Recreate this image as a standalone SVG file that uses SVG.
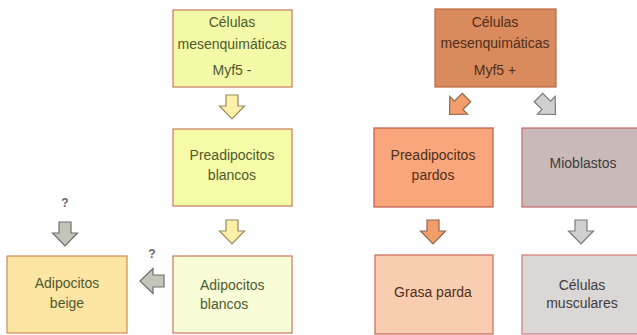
<svg xmlns="http://www.w3.org/2000/svg" width="637" height="335" viewBox="0 0 637 335">
<style>
.t{font-family:"Liberation Sans",Arial,sans-serif;font-size:14px;text-anchor:middle}
.ty{fill:#4e5a30}
.to{fill:#4f2e1a}
.tg{fill:#3c3c3c}
.q{font-family:"Liberation Sans",Arial,sans-serif;font-size:12px;fill:#666;text-anchor:middle;font-weight:bold}
.box{stroke-width:1.2}
.ay{fill:#fdf0a8;stroke:#9a8a60;stroke-width:1.2}
.ao{fill:#f59d6a;stroke:#8a6a50;stroke-width:1.2}
.ag{fill:#d0d0d0;stroke:#7a7a7a;stroke-width:1.2}
.ab{fill:#c3c5b8;stroke:#6f6f6f;stroke-width:1.2}
</style>
<defs>
<path id="arr" d="M-6,-12 H6 V-1 H12.5 L0,12 L-12.5,-1 H-6 Z"/>
</defs>
<rect width="637" height="335" fill="#fff"/>
<g id="n1"><rect class="box" x="173" y="10" width="119" height="77" fill="#f3f9a6" stroke="#c87a5a"/>
<text class="t ty" x="232" y="27">Células</text><text class="t ty" x="232" y="49">mesenquimáticas</text><text class="t ty" x="232" y="75">Myf5 -</text></g>
<g id="n2"><rect class="box" x="173" y="129" width="119" height="77" fill="#f6fba8" stroke="#c87a5a"/>
<text class="t ty" x="232" y="160">Preadipocitos</text><text class="t ty" x="232" y="180">blancos</text></g>
<g id="n3"><rect class="box" x="173" y="256" width="119" height="77" fill="#f8fdd8" stroke="#c87a5a"/>
<text class="t ty" x="200" y="290" style="text-anchor:start">Adipocitos</text><text class="t ty" x="200" y="309" style="text-anchor:start">blancos</text></g>
<g id="n4"><rect class="box" x="7" y="256" width="120" height="77" fill="#fde6a4" stroke="#d08a5a"/>
<text class="t ty" x="67" y="288">Adipocitos</text><text class="t ty" x="67" y="308">beige</text></g>
<g id="n5"><rect class="box" x="435" y="9" width="121" height="78" fill="#d98b5e" stroke="#b86a45"/>
<text class="t to" x="495" y="27">Células</text><text class="t to" x="495" y="48">mesenquimáticas</text><text class="t to" x="495" y="75">Myf5 +</text></g>
<g id="n6"><rect class="box" x="374" y="128" width="119" height="79" fill="#f9a67c" stroke="#c05a4a"/>
<text class="t to" x="433" y="160">Preadipocitos</text><text class="t to" x="433" y="180">pardos</text></g>
<g id="n7"><rect class="box" x="522" y="128" width="122" height="79" fill="#c9b9b9" stroke="#c86a6a"/>
<text class="t tg" x="583" y="168">Mioblastos</text></g>
<g id="n8"><rect class="box" x="375" y="255" width="118" height="79" fill="#fbcdb0" stroke="#c86a5a"/>
<text class="t to" x="433" y="297">Grasa parda</text></g>
<g id="n9"><rect class="box" x="522" y="255" width="122" height="79" fill="#dcd7d7" stroke="#d07a7a"/>
<text class="t tg" x="582" y="290">Células</text><text class="t tg" x="582" y="308">musculares</text></g>
<g id="connectors">
<use href="#arr" class="ay" transform="translate(232,107)"/>
<use href="#arr" class="ay" transform="translate(232,232)"/>
<use href="#arr" class="ab" transform="translate(65,234)"/>
<use href="#arr" class="ab" transform="translate(152,281) rotate(90)"/>
<use href="#arr" class="ao" transform="translate(458,106) rotate(45)"/>
<use href="#arr" class="ag" transform="translate(547,106) rotate(-45)"/>
<use href="#arr" class="ao" transform="translate(433,232)"/>
<use href="#arr" class="ag" transform="translate(581,232)"/>
<text class="q" x="65" y="207">?</text>
<text class="q" x="152" y="258">?</text>
</g>
</svg>
